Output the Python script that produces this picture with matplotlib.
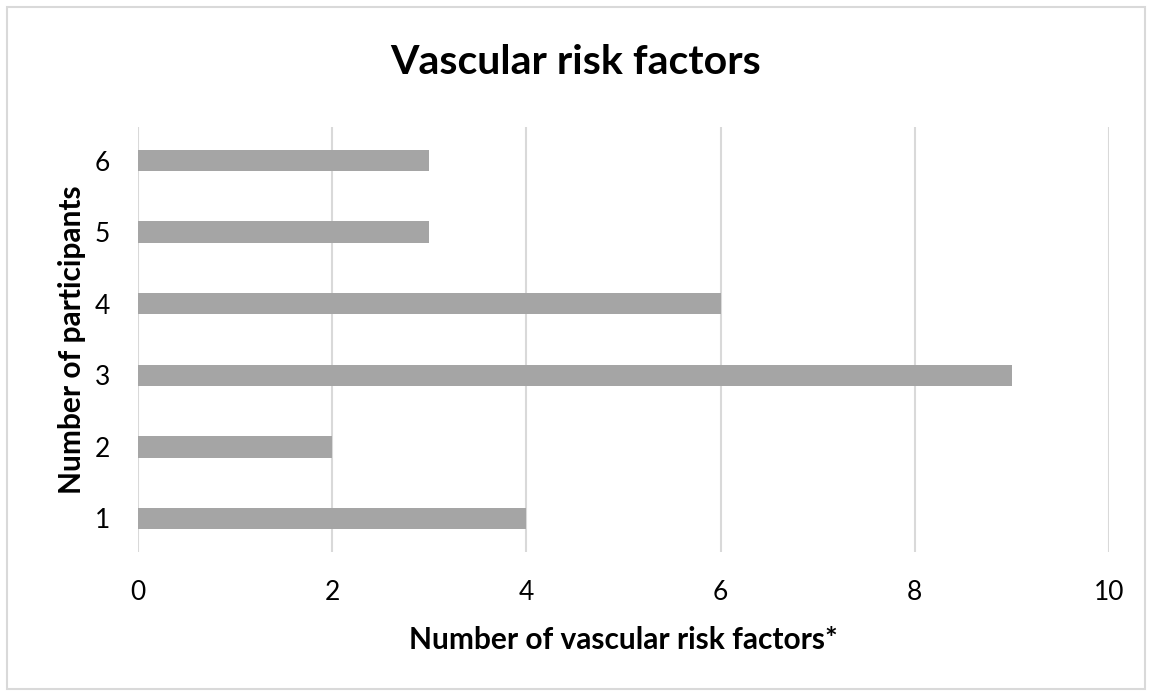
import matplotlib
matplotlib.use("Agg")
import matplotlib.pyplot as plt
from matplotlib.patches import Rectangle

# data
participants = [1, 2, 3, 4, 5, 6]
risk_factors = [4, 2, 9, 6, 3, 3]
xticks = [0, 2, 4, 6, 8, 10]

plt.rcParams['font.family'] = ['Lato', 'DejaVu Sans']

fig = plt.figure(figsize=(11.52, 6.96), dpi=100)
ax = fig.add_axes([138/1152, 1 - 552/696, (1109 - 138)/1152, (552 - 127)/696])

ax.barh(participants, risk_factors, height=0.3, color='#a5a5a5', zorder=3)

ax.set_xlim(0, 10)
ax.set_ylim(0.53, 6.47)
ax.set_xticks(xticks)
ax.set_yticks(participants)
ax.xaxis.grid(True, color='#d9d9d9', linewidth=1.5, zorder=0)
for s in ax.spines.values():
    s.set_visible(False)
ax.tick_params(axis='both', length=0, labelsize=19, colors='black')
ax.tick_params(axis='x', pad=20)
ax.tick_params(axis='y', pad=20)

fig.text(0.5, 1 - 62/696, 'Vascular risk factors', fontsize=29.5, fontweight='bold',
         ha='center', va='center')
ax.set_xlabel('Number of vascular risk factors*', fontsize=21.5, fontweight='bold', va='center')
ax.xaxis.set_label_coords(0.5, (56 - 144)/425)
ax.set_ylabel('Number of participants', fontsize=21.5, fontweight='bold', va='center')
ax.yaxis.set_label_coords((72 - 138)/971, 0.5)

# light frame around the whole chart
fig.patches.append(Rectangle((7/1152, 7/696), 1 - 14/1152, 1 - 14/696,
                             transform=fig.transFigure, fill=False,
                             edgecolor='#d9d9d9', linewidth=1.5))

fig.savefig('out.png', dpi=100, facecolor='white')
